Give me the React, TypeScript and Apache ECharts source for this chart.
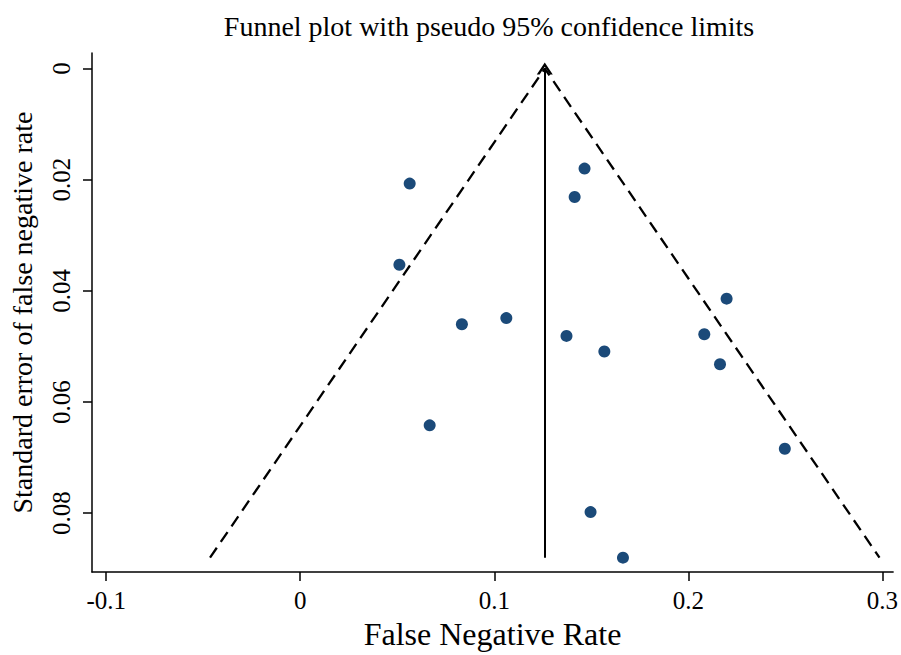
import React, { useEffect, useRef } from "react";
import * as echarts from "echarts";

// Study estimates: false negative rate (x) and its standard error (y)
const fnRate = [0.1465, 0.0564, 0.1414, 0.0511, 0.2197, 0.0833, 0.1062, 0.1372, 0.2082, 0.1567, 0.2163, 0.0667, 0.2497, 0.1496, 0.1663];
const stdErr = [0.018, 0.0207, 0.0231, 0.0353, 0.0414, 0.046, 0.0449, 0.0481, 0.0478, 0.0509, 0.0532, 0.0642, 0.0684, 0.0798, 0.088];

// Pooled estimate and pseudo 95% limits
const pooled = 0.126;
const seMax = 0.088;
const z95 = 1.96;

const xTicks = [-0.1, 0, 0.1, 0.2, 0.3];
const yTicks = [0, 0.02, 0.04, 0.06, 0.08];

const FONT = "Liberation Serif";

export default function App() {
  const ref = useRef<HTMLDivElement>(null);
  useEffect(() => {
    if (!ref.current) return;
    const chart = echarts.init(ref.current, undefined, { renderer: "svg" });
    const points = fnRate.map((x, i) => [x, stdErr[i]]);
    const funnel = [
      [pooled - z95 * seMax, seMax],
      [pooled, 0],
      [pooled + z95 * seMax, seMax],
    ];
    chart.setOption({
      animation: false,
      backgroundColor: "#ffffff",
      title: {
        text: "Funnel plot with pseudo 95% confidence limits",
        left: 484,
        top: 7,
        textAlign: "center",
        textStyle: { fontFamily: FONT, fontSize: 28, fontWeight: "normal", color: "#000" },
      },
      grid: { left: 87, right: 2, top: 53, bottom: 75 },
      xAxis: {
        type: "value",
        min: -0.1073,
        max: 0.3055,
        name: "False Negative Rate",
        nameLocation: "middle",
        nameGap: 42,
        nameTextStyle: { fontFamily: FONT, fontSize: 32, color: "#000" },
        axisLine: { show: true, onZero: false, lineStyle: { color: "#000", width: 1.5 } },
        axisTick: { show: true, length: 9, customValues: xTicks, lineStyle: { color: "#000", width: 1.5 } },
        axisLabel: {
          customValues: xTicks,
          margin: 16,
          fontFamily: FONT,
          fontSize: 25,
          color: "#000",
          formatter: (v: number) => String(Math.round(v * 100) / 100),
        },
        splitLine: { show: false },
      },
      yAxis: {
        type: "value",
        inverse: true,
        min: -0.0028,
        max: 0.0906,
        name: "Standard error of false negative rate",
        nameLocation: "middle",
        nameRotate: 90,
        nameGap: 56,
        nameTextStyle: { fontFamily: FONT, fontSize: 28, color: "#000" },
        axisLine: { show: true, onZero: false, lineStyle: { color: "#000", width: 1.5 } },
        axisTick: { show: true, length: 9, customValues: yTicks, lineStyle: { color: "#000", width: 1.5 } },
        axisLabel: {
          customValues: yTicks,
          rotate: 90,
          margin: 18,
          fontFamily: FONT,
          fontSize: 25,
          color: "#000",
          formatter: (v: number) => String(Math.round(v * 1000) / 1000),
        },
        splitLine: { show: false },
      },
      series: [
        {
          type: "line",
          data: funnel,
          symbol: "none",
          silent: true,
          lineStyle: { color: "#000", width: 2.3, type: [12, 7] },
          z: 2,
        },
        {
          type: "line",
          data: [],
          symbol: "none",
          silent: true,
          markLine: {
            silent: true,
            symbol: ["none", "path://M0,10 L5,0 L10,10 L8.2,10 L5,3.4 L1.8,10 Z"],
            symbolSize: [16, 12],
            label: { show: false },
            lineStyle: { color: "#000", width: 2, type: "solid" },
            data: [[{ coord: [pooled, seMax] }, { coord: [pooled, 0] }]],
          },
          z: 2,
        },
        {
          type: "scatter",
          data: points,
          symbol: "circle",
          symbolSize: 12,
          itemStyle: { color: "#1b4a79", opacity: 1 },
          z: 3,
        },
      ],
    });
    return () => chart.dispose();
  }, []);
  return (
    <div
      ref={ref}
      style={{ position: "fixed", left: 0, top: 0, width: 901, height: 655 }}
    />
  );
}
